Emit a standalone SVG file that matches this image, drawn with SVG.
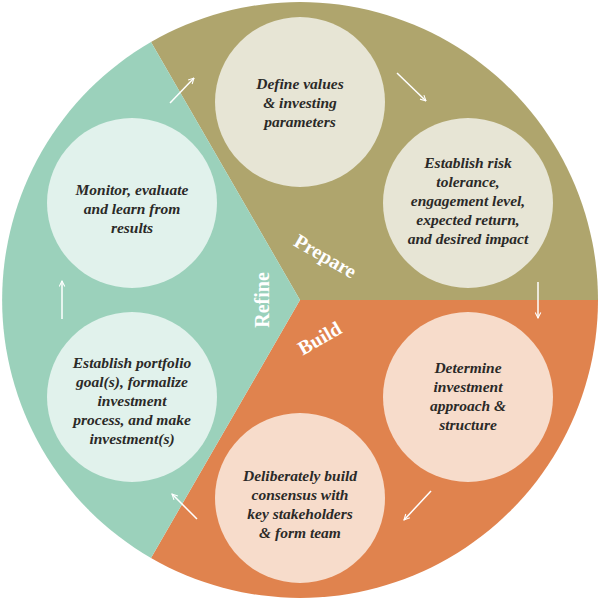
<svg xmlns="http://www.w3.org/2000/svg" width="600" height="600" viewBox="0 0 600 600">
<defs>
<marker id="ah" viewBox="0 0 10 10" refX="9" refY="5" markerWidth="7" markerHeight="7" orient="auto" markerUnits="userSpaceOnUse"><path d="M1,1 L9,5 L1,9" fill="none" stroke="#fff" stroke-width="1.5"/></marker>
</defs>
<style>
.t{font-family:"Liberation Serif",serif;font-weight:bold;font-style:italic;font-size:15.5px;fill:#2b2a28;text-anchor:middle}
.s{font-family:"Liberation Serif",serif;font-weight:bold;font-size:20px;fill:#fff;text-anchor:middle}
.a{stroke:#fff;stroke-width:1.5;fill:none;marker-end:url(#ah)}
</style>
<g id="sectors">
<path d="M300,300 L151,42 A298,298 0 0 1 598,300 Z" fill="#afa56d"/>
<path d="M300,300 L598,300 A298,298 0 0 1 151,558 Z" fill="#e0834e"/>
<path d="M300,300 L151,558 A298,298 0 0 1 151,42 Z" fill="#9bd1bb"/>
<text class="s" transform="translate(322,262) rotate(30)">Prepare</text>
<text class="s" transform="translate(323,344) rotate(-30)">Build</text>
<text class="s" transform="translate(269,300) rotate(-90)">Refine</text>
</g>
<g id="n1"><circle cx="300" cy="102" r="85" fill="#e7e5d5"/>
<text class="t" x="300" y="89">Define values</text><text class="t" x="300" y="108">&amp; investing</text><text class="t" x="300" y="127">parameters</text></g>
<g id="n2"><circle cx="468" cy="203" r="85" fill="#e7e5d5"/>
<text class="t" x="468" y="168">Establish risk</text><text class="t" x="468" y="187">tolerance,</text><text class="t" x="468" y="206">engagement level,</text><text class="t" x="468" y="225">expected return,</text><text class="t" x="468" y="244">and desired impact</text></g>
<g id="n3"><circle cx="468" cy="397" r="85" fill="#f7dccb"/>
<text class="t" x="468" y="373">Determine</text><text class="t" x="468" y="392">investment</text><text class="t" x="468" y="411">approach &amp;</text><text class="t" x="468" y="430">structure</text></g>
<g id="n4"><circle cx="300" cy="498" r="85" fill="#f7dccb"/>
<text class="t" x="300" y="481">Deliberately build</text><text class="t" x="300" y="500">consensus with</text><text class="t" x="300" y="519">key stakeholders</text><text class="t" x="300" y="538">&amp; form team</text></g>
<g id="n5"><circle cx="132" cy="397" r="85" fill="#e1f2ec"/>
<text class="t" x="132" y="368">Establish portfolio</text><text class="t" x="132" y="387">goal(s), formalize</text><text class="t" x="132" y="406">investment</text><text class="t" x="132" y="425">process, and make</text><text class="t" x="132" y="444">investment(s)</text></g>
<g id="n6"><circle cx="132" cy="203" r="85" fill="#e1f2ec"/>
<text class="t" x="132" y="195">Monitor, evaluate</text><text class="t" x="132" y="214">and learn from</text><text class="t" x="132" y="233">results</text></g>
<g id="connectors">
<line class="a" x1="170" y1="103" x2="194" y2="78"/>
<line class="a" x1="397" y1="73" x2="426" y2="101"/>
<line class="a" x1="538" y1="282" x2="538" y2="318"/>
<line class="a" x1="431" y1="491" x2="404" y2="520"/>
<line class="a" x1="197" y1="519" x2="172" y2="494"/>
<line class="a" x1="62" y1="319" x2="62" y2="281"/>
</g>
</svg>
